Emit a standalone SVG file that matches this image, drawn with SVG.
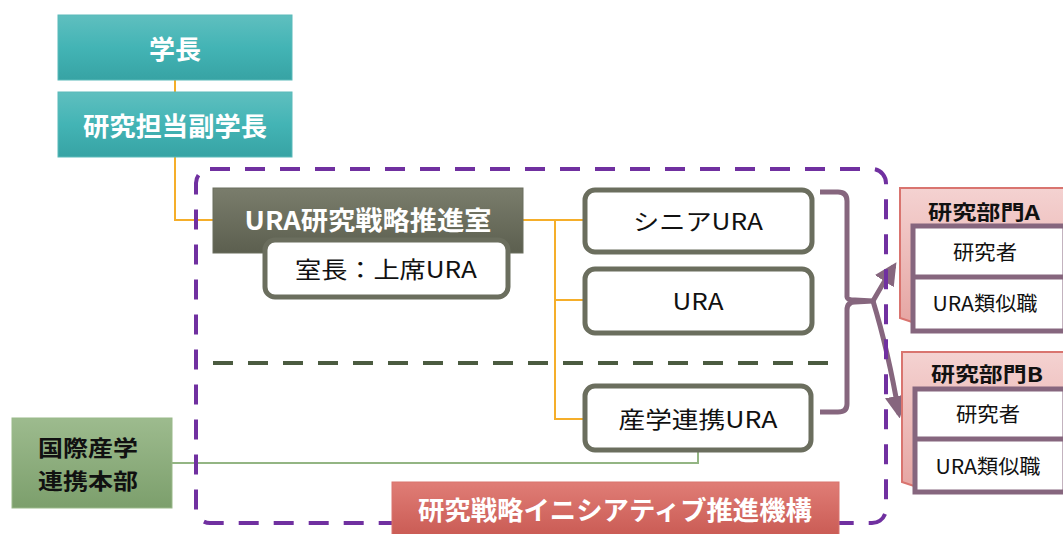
<svg xmlns="http://www.w3.org/2000/svg" width="1063" height="534" viewBox="0 0 1063 534">
<defs>
<linearGradient id="gTeal" x1="0" y1="0" x2="0" y2="1"><stop offset="0" stop-color="#5fbfbf"/><stop offset="0.5" stop-color="#43b4b5"/><stop offset="1" stop-color="#37a3a4"/></linearGradient>
<linearGradient id="gDark" x1="0" y1="0" x2="0" y2="1"><stop offset="0" stop-color="#7a7d6c"/><stop offset="1" stop-color="#5c5f4f"/></linearGradient>
<linearGradient id="gGreen" x1="0" y1="0" x2="0" y2="1"><stop offset="0" stop-color="#9dbb8e"/><stop offset="1" stop-color="#7c9f6c"/></linearGradient>
<linearGradient id="gRed" x1="0" y1="0" x2="0" y2="1"><stop offset="0" stop-color="#e07d76"/><stop offset="1" stop-color="#c95a53"/></linearGradient>
<linearGradient id="gPink" x1="0" y1="0" x2="0" y2="1"><stop offset="0" stop-color="#f4d2d1"/><stop offset="1" stop-color="#e6a6a3"/></linearGradient>
<marker id="arr" viewBox="0 0 10 10" refX="8" refY="5" markerWidth="4.5" markerHeight="4.5" orient="auto" markerUnits="strokeWidth"><path d="M0,0 L10,5 L0,10 Z" fill="#86667e"/></marker>
</defs>
<style>
.t{font-family:"Noto Sans CJK JP","Noto Sans",sans-serif;text-anchor:middle;dominant-baseline:central}
.wb{fill:#fff;font-weight:bold;font-size:26px}
.kb{fill:#111;font-weight:bold;font-size:20px}
.k{fill:#111;font-size:23px}
.ks{fill:#111;font-size:20px}
.urabox{fill:#fff;stroke:#6b6e5e;stroke-width:5}
.orange{fill:none;stroke:#f5ae2a;stroke-width:2}
.brk{fill:none;stroke:#86667e;stroke-width:5;stroke-linejoin:round}
.inner{fill:#fff;stroke:#86667e;stroke-width:5}
.pink{fill:url(#gPink);stroke:#d9746f;stroke-width:2}
</style>

<g id="connectors">
<path class="orange" d="M175,80 V92 M175,157 V220 H213"/>
<path class="orange" d="M523,220 H555 V419 H583 M555,220 H583 M555,300 H583"/>
<path d="M172,463 H698 V451" fill="none" stroke="#93b583" stroke-width="2"/>
<path class="brk" d="M820,192 H838 Q847,192 847,201 V297 Q847,300 855,300 L873,301 L855,302 Q847,302 847,310 V404 Q847,412 838,412 H820"/>
<path class="brk" d="M873,301 Q885,280 894,266" marker-end="url(#arr)"/>
<path class="brk" d="M873,301 Q888,350 899,414" marker-end="url(#arr)"/>
</g>

<g id="frame">
<rect x="196" y="169" width="690" height="354" rx="14" fill="none" stroke="#7030a0" stroke-width="4" stroke-dasharray="20,15"/>
<line x1="213" y1="363" x2="840" y2="363" stroke="#4b5b40" stroke-width="4" stroke-dasharray="20,15"/>
</g>

<g id="n-gakucho">
<rect x="58" y="15" width="234" height="65" fill="url(#gTeal)" stroke="#5bbaba" stroke-width="1"/>
<text class="t wb" x="175" y="47" textLength="52" lengthAdjust="spacingAndGlyphs">学長</text>
</g>
<g id="n-fuku">
<rect x="58" y="92" width="234" height="65" fill="url(#gTeal)" stroke="#5bbaba" stroke-width="1"/>
<text class="t wb" x="175" y="124" textLength="184" lengthAdjust="spacingAndGlyphs">研究担当副学長</text>
</g>

<g id="n-ura-office">
<rect x="213" y="188" width="310" height="65" fill="url(#gDark)" stroke="#6b6e5e" stroke-width="1"/>
<text class="t wb" x="368" y="218" textLength="247" lengthAdjust="spacingAndGlyphs">URA研究戦略推進室</text>
</g>
<g id="n-shitsucho">
<rect class="urabox" x="265" y="240" width="243" height="57" rx="10"/>
<text class="t k" x="386" y="268" textLength="182" lengthAdjust="spacingAndGlyphs">室長：上席URA</text>
</g>

<g id="n-senior">
<rect class="urabox" x="585" y="190" width="227" height="62" rx="10"/>
<text class="t k" x="698" y="220" textLength="130" lengthAdjust="spacingAndGlyphs">シニアURA</text>
</g>
<g id="n-ura">
<rect class="urabox" x="585" y="269" width="227" height="64" rx="10"/>
<text class="t k" x="698" y="300" textLength="51" lengthAdjust="spacingAndGlyphs">URA</text>
</g>
<g id="n-sangaku">
<rect class="urabox" x="585" y="386" width="226" height="64" rx="10"/>
<text class="t k" x="698" y="418" textLength="159" lengthAdjust="spacingAndGlyphs">産学連携URA</text>
</g>

<g id="n-bumonA">
<path class="pink" d="M900,188 H1064 V322 H912 L900,318 Z"/>
<text class="t kb" x="984" y="211" textLength="112" lengthAdjust="spacingAndGlyphs">研究部門A</text>
<rect class="inner" x="913" y="226" width="152" height="105"/>
<line x1="913" y1="277" x2="1065" y2="277" stroke="#86667e" stroke-width="5"/>
<text class="t ks" x="985" y="251" textLength="64" lengthAdjust="spacingAndGlyphs">研究者</text>
<text class="t ks" x="985" y="302" textLength="105" lengthAdjust="spacingAndGlyphs">URA類似職</text>
</g>

<g id="n-bumonB">
<path class="pink" d="M902,352 H1064 V486 H914 L902,482 Z"/>
<text class="t kb" x="987" y="373" textLength="112" lengthAdjust="spacingAndGlyphs">研究部門B</text>
<rect class="inner" x="915" y="389" width="150" height="103"/>
<line x1="915" y1="439" x2="1065" y2="439" stroke="#86667e" stroke-width="5"/>
<text class="t ks" x="988" y="413" textLength="64" lengthAdjust="spacingAndGlyphs">研究者</text>
<text class="t ks" x="988" y="465" textLength="105" lengthAdjust="spacingAndGlyphs">URA類似職</text>
</g>

<g id="n-kokusai">
<rect x="12" y="418" width="160" height="90" fill="url(#gGreen)" stroke="#9ab98a" stroke-width="1"/>
<text class="t kb" x="88" y="446" style="font-size:22px" textLength="100" lengthAdjust="spacingAndGlyphs">国際産学</text>
<text class="t kb" x="88" y="479" style="font-size:22px" textLength="100" lengthAdjust="spacingAndGlyphs">連携本部</text>
</g>

<g id="n-kiko">
<rect x="392" y="482" width="447" height="56" fill="url(#gRed)" stroke="#d9746f" stroke-width="1"/>
<text class="t wb" x="615" y="508" textLength="394" lengthAdjust="spacingAndGlyphs">研究戦略イニシアティブ推進機構</text>
</g>
</svg>
